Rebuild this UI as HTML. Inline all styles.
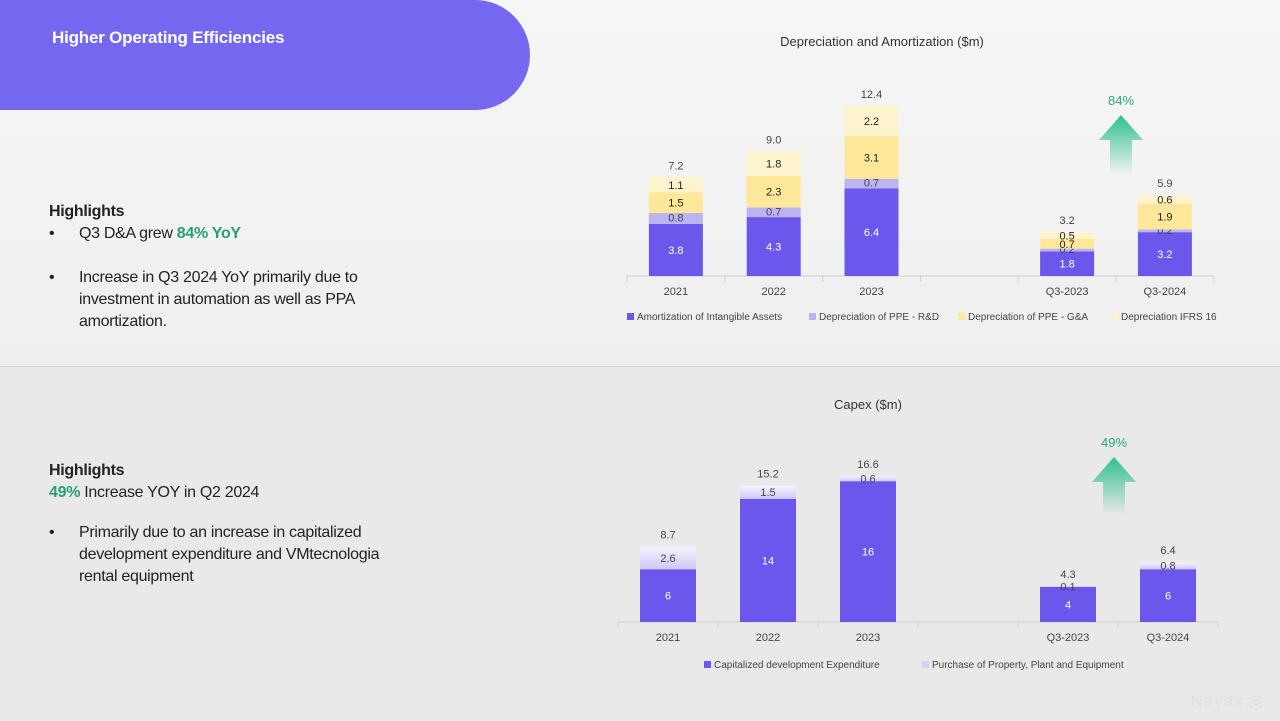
<!DOCTYPE html>
<html><head><meta charset="utf-8">
<style>
html,body{margin:0;padding:0}
body{width:1280px;height:720px;position:relative;overflow:hidden;font-family:"Liberation Sans",sans-serif;background:#f1f1f1}
.top{position:absolute;left:0;top:0;width:1280px;height:365px;background:linear-gradient(#f6f6f6,#efefef)}
.bot{position:absolute;left:0;top:366px;width:1280px;height:354px;background:#e9e9e9;border-top:1px solid #d4d4d4}
.hdr{position:absolute;left:0;top:0;width:530px;height:110px;background:#7567f0;border-radius:0 55px 55px 0}
.hdr span{position:absolute;left:52px;top:28px;color:#fff;font-weight:bold;font-size:17px;letter-spacing:-0.2px}
.txt{position:absolute;left:49px;color:#222;font-size:16px;line-height:22px;letter-spacing:-0.3px}
.txt b{font-weight:bold}
.g{color:#2a9d78;font-weight:bold}
.li{position:relative;padding-left:30px}
.li:before{content:"•";position:absolute;left:0}
svg{position:absolute;left:0;top:0}
</style></head><body>
<div class="top"></div>
<div class="bot"></div>
<div class="hdr"><span>Higher Operating Efficiencies</span></div>
<div class="txt" style="top:201px;width:380px">
<b>Highlights</b>
<div class="li">Q3 D&amp;A grew <span class="g">84% YoY</span></div>
<div style="height:22px"></div>
<div class="li">Increase in Q3 2024 YoY primarily due to investment in automation as well as PPA amortization.</div>
</div>
<div class="txt" style="top:460px;width:366px">
<b>Highlights</b>
<div><span class="g" style="font-weight:bold">49%</span> Increase YOY in Q2 2024</div>
<div style="height:18px"></div>
<div class="li">Primarily due to an increase in capitalized development expenditure and VMtecnologia rental equipment</div>
</div>
<div style="position:absolute;right:16px;bottom:8px;color:#e2e2e2;font-size:18px;font-weight:bold">Nayax ◎</div>
<svg id="chart" width="1280" height="720">
<defs>
<linearGradient id="ag" x1="0" y1="0" x2="0" y2="1"><stop offset="0" stop-color="#2ec08f"/><stop offset="1" stop-color="#2ec08f" stop-opacity="0"/></linearGradient>
<linearGradient id="pg" x1="0" y1="0" x2="0" y2="1"><stop offset="0" stop-color="#f4f3ff"/><stop offset="1" stop-color="#cfc9f5"/></linearGradient>
</defs>
</svg>
<script>
const daCats=["2021","2022","2023","","Q3-2023","Q3-2024"];
const daAmort=[3.8,4.3,6.4,null,1.8,3.2];
const daRD=[0.8,0.7,0.7,null,0.2,0.2];
const daGA=[1.5,2.3,3.1,null,0.7,1.9];
const daIFRS=[1.1,1.8,2.2,null,0.5,0.6];
const daTotals=["7.2","9.0","12.4","","3.2","5.9"];
const cxCats=["2021","2022","2023","","Q3-2023","Q3-2024"];
const cxCapDev=[6,14,16,null,4,6];
const cxPPE=[2.6,1.5,0.6,null,0.1,0.8];
const cxTotals=["8.7","15.2","16.6","","4.3","6.4"];

const svg=document.getElementById('chart');
const NS="http://www.w3.org/2000/svg";
function mk(tag,attrs,txt){const e=document.createElementNS(NS,tag);for(const k in attrs)e.setAttribute(k,attrs[k]);if(txt!==undefined)e.textContent=txt;svg.appendChild(e);return e;}

function chart(cfg){
  const xs=i=>cfg.x0+cfg.step*(i+0.5);
  const ys=v=>cfg.base-v*cfg.ppu;
  let t=mk('text',{x:cfg.titleX,y:cfg.titleY,'font-size':13,fill:'#333','text-anchor':'middle'},cfg.title);
  
  
  let ax=mk('line',{x1:cfg.x0,x2:cfg.x0+cfg.step*cfg.cats.length,y1:cfg.base,y2:cfg.base,stroke:'#cfcfcf'});
  
  
  for(let i=0;i<=cfg.cats.length;i++){mk('line',{x1:cfg.x0+cfg.step*i,x2:cfg.x0+cfg.step*i,y1:cfg.base,y2:cfg.base+6,stroke:'#cfcfcf'});}
  cfg.cats.forEach((c,i)=>{
    if(!c)return;
    let l=mk('text',{x:xs(i),y:cfg.base+19,'font-size':11,fill:'#444','text-anchor':'middle'},c);
    
    
    let acc=0;
    cfg.series.forEach(s=>{
      const v=s.vals[i];
      const y1=ys(acc),y2=ys(acc+v);
      let r=mk('rect',{x:xs(i)-cfg.bw/2,y:y2,width:cfg.bw,height:y1-y2,fill:s.color});
      
      
      let ly=(y1+y2)/2+4+(s.off||0);
      let lt=mk('text',{x:xs(i),y:ly,'font-size':11,fill:s.lc,'text-anchor':'middle'},String(v));
      
      
      acc+=v;
    });
    let tt=mk('text',{x:xs(i),y:ys(acc)-8,'font-size':11,fill:'#444','text-anchor':'middle'},cfg.totals[i]);
    
    
  });
  cfg.legend.forEach(L=>{
    let r=mk('rect',{x:L.x,y:cfg.legY-7,width:7,height:7,fill:L.color});
    
    
    let lt=mk('text',{x:L.x+10,y:cfg.legY,'font-size':10,fill:'#444'},L.text);
    
    
  });
  const a=cfg.arrow;
  let p=mk('path',{d:`M${a.x} ${a.top} L${a.x+22} ${a.top+25} L${a.x+11} ${a.top+25} L${a.x+11} ${a.bot} L${a.x-11} ${a.bot} L${a.x-11} ${a.top+25} L${a.x-22} ${a.top+25} Z`,fill:'url(#ag)'});
  
  
  let pt=mk('text',{x:a.x,y:a.top-10,'font-size':13,fill:'#2aa87a','text-anchor':'middle'},a.label);
  
  
}

chart({id:'da',title:'Depreciation and Amortization ($m)',titleX:882,titleY:46,cats:daCats,totals:daTotals,
  x0:627,step:97.8,bw:54,base:276,ppu:13.7,legY:320,
  series:[{key:'amortization',vals:daAmort,color:'#6b57ec',lc:'#fff'},
          {key:'ppe-rd',vals:daRD,color:'#bcb3f2',lc:'#444',off:-1},
          {key:'ppe-ga',vals:daGA,color:'#fde89a',lc:'#222'},
          {key:'ifrs16',vals:daIFRS,color:'#fdf3cc',lc:'#222'}],
  legend:[{key:'amortization',x:627,color:'#6b57ec',text:'Amortization of Intangible Assets'},
          {key:'ppe-rd',x:809,color:'#bcb3f2',text:'Depreciation of PPE - R&D'},
          {key:'ppe-ga',x:958,color:'#fde89a',text:'Depreciation of PPE - G&A'},
          {key:'ifrs16',x:1111,color:'#fdf3cc',text:'Depreciation IFRS 16'}],
  arrow:{x:1121,top:115,bot:175,label:'84%'}});

chart({id:'capex',title:'Capex ($m)',titleX:868,titleY:409,cats:cxCats,totals:cxTotals,
  x0:618,step:100,bw:56,base:622,ppu:8.8,legY:668,
  series:[{key:'capitalized-dev',vals:cxCapDev,color:'#6b57ec',lc:'#fff'},
          {key:'ppe-purchase',vals:cxPPE,color:'url(#pg)',lc:'#444'}],
  legend:[{key:'capitalized-dev',x:704,color:'#6b57ec',text:'Capitalized development Expenditure'},
          {key:'ppe-purchase',x:922,color:'#d6d1f6',text:'Purchase of Property, Plant and Equipment'}],
  arrow:{x:1114,top:457,bot:515,label:'49%'}});
</script>
</body></html>
